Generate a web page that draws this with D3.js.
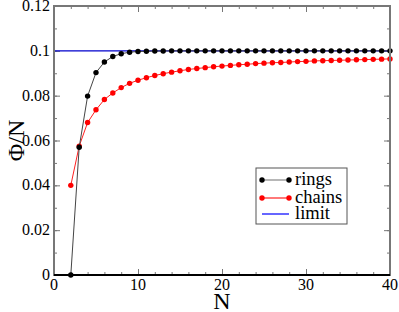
<!DOCTYPE html>
<html>
<head>
<meta charset="utf-8">
<script src="https://cdn.jsdelivr.net/npm/d3@7"></script>
<style>
  body { margin: 0; background: #fff; }
</style>
</head>
<body>
<div class="chart"></div>
<script>
// N values shared by both series
const nValues = d3.range(2, 41);

const rings = [0, 0.057, 0.0798, 0.0903, 0.095, 0.0975, 0.0987, 0.0994, 0.0997, 0.0998,
  0.0999, 0.0999, 0.1, 0.1, 0.1, 0.1, 0.1, 0.1, 0.1, 0.1,
  0.1, 0.1, 0.1, 0.1, 0.1, 0.1, 0.1, 0.1, 0.1, 0.1,
  0.1, 0.1, 0.1, 0.1, 0.1, 0.1, 0.1, 0.1, 0.1];

const chains = [0.040, 0.0575, 0.068, 0.0737, 0.0783, 0.0812, 0.0836, 0.0855, 0.0869, 0.0880,
  0.0890, 0.0898, 0.0905, 0.0911, 0.0917, 0.0921, 0.0925, 0.0929, 0.0932, 0.0935,
  0.0938, 0.0940, 0.0943, 0.0945, 0.0947, 0.0948, 0.0950, 0.0952, 0.0953, 0.0955,
  0.0956, 0.0957, 0.0958, 0.0959, 0.0960, 0.0961, 0.0962, 0.0963, 0.0964];

const limitValue = 0.1;

const xTicks = [0, 10, 20, 30, 40];
const yTicks = [0, 0.02, 0.04, 0.06, 0.08, 0.1, 0.12];
const yTickLabels = ["0", "0.02", "0.04", "0.06", "0.08", "0.1", "0.12"];

const legendNames = ["rings", "chains", "limit"];

const W = 399, H = 312;
const margin = {top: 6, left: 54, right: 9, bottom: 37};
const width = W - margin.left - margin.right,
  height = H - margin.top - margin.bottom;
const serif = "'Liberation Serif', serif";

const svg = d3.select(".chart").append("svg")
  .attr("width", W)
  .attr("height", H);

const g = svg.append("g")
  .attr("transform", "translate(" + margin.left + "," + margin.top + ")");

const x = d3.scaleLinear().domain([0, 40]).range([0, width]);
const y = d3.scaleLinear().domain([0, 0.12]).range([height, 0]);

const frameColor = "#777";

// inner ticks on all four sides
const xMinor = d3.range(0, 41, 2);
const yMinor = d3.range(0, 0.1201, 0.01);

function addAxis(axis, transform) {
  const a = g.append("g").attr("transform", transform).call(axis);
  a.select(".domain").remove();
  a.selectAll("line").attr("stroke", frameColor);
  a.selectAll("text").remove();
  return a;
}

addAxis(d3.axisBottom(x).tickValues(xMinor).tickSize(-3), "translate(0," + height + ")");
addAxis(d3.axisBottom(x).tickValues(xTicks).tickSize(-6), "translate(0," + height + ")");
addAxis(d3.axisTop(x).tickValues(xMinor).tickSize(-3), "translate(0,0)");
addAxis(d3.axisTop(x).tickValues(xTicks).tickSize(-6), "translate(0,0)");
addAxis(d3.axisLeft(y).tickValues(yMinor).tickSize(-3), "translate(0,0)");
addAxis(d3.axisLeft(y).tickValues(yTicks).tickSize(-6), "translate(0,0)");
addAxis(d3.axisRight(y).tickValues(yMinor).tickSize(-3), "translate(" + width + ",0)");
addAxis(d3.axisRight(y).tickValues(yTicks).tickSize(-6), "translate(" + width + ",0)");

// tick labels
g.selectAll(".xlab").data(xTicks).enter().append("text")
  .attr("x", d => x(d))
  .attr("y", height + 15)
  .attr("text-anchor", "middle")
  .attr("font-family", serif)
  .attr("font-size", 16)
  .text(d => d);

g.selectAll(".ylab").data(yTicks).enter().append("text")
  .attr("x", -4)
  .attr("y", d => y(d) + 5)
  .attr("text-anchor", "end")
  .attr("font-family", serif)
  .attr("font-size", 16)
  .text((d, i) => yTickLabels[i]);

// axis titles
svg.append("text")
  .attr("x", margin.left + width / 2)
  .attr("y", 309)
  .attr("text-anchor", "middle")
  .attr("font-family", serif)
  .attr("font-size", 24)
  .text("N");

svg.append("text")
  .attr("transform", "translate(24," + (margin.top + height / 2) + ") rotate(-90)")
  .attr("text-anchor", "middle")
  .attr("font-family", serif)
  .attr("font-size", 24)
  .text("Φ/N");

// limit line
g.append("line")
  .attr("x1", x(0)).attr("x2", x(40))
  .attr("y1", y(limitValue)).attr("y2", y(limitValue))
  .attr("stroke", "#0000cc")
  .attr("stroke-width", 1.2);

const line = d3.line()
  .x(d => x(d[0]))
  .y(d => y(d[1]));

function drawSeries(values, lineColor, dotColor) {
  const pts = nValues.map((n, i) => [n, values[i]]);
  g.append("path")
    .datum(pts)
    .attr("fill", "none")
    .attr("stroke", lineColor)
    .attr("stroke-width", 1)
    .attr("d", line);
  g.selectAll(null).data(pts).enter().append("circle")
    .attr("cx", d => x(d[0]))
    .attr("cy", d => y(d[1]))
    .attr("r", 2.7)
    .attr("fill", dotColor);
}

drawSeries(chains, "#ff2020", "#ff0000");
drawSeries(rings, "#444", "#000");

// frame
g.append("rect")
  .attr("width", width)
  .attr("height", height)
  .attr("fill", "none")
  .attr("stroke", frameColor)
  .attr("stroke-width", 2);
g.append("line")
  .attr("x1", 0).attr("x2", width)
  .attr("y1", height).attr("y2", height)
  .attr("stroke", "#000")
  .attr("stroke-width", 2);

// legend
const legend = svg.append("g").attr("transform", "translate(256,168)");
legend.append("rect")
  .attr("width", 91)
  .attr("height", 56)
  .attr("fill", "#fff")
  .attr("stroke", "#555")
  .attr("stroke-width", 1);

const legendStyles = [
  {line: "#888", dot: "#000"},
  {line: "#ff2020", dot: "#ff0000"},
  {line: "#0000ff", dot: null}
];
const legendY = [12, 30, 46];

legendNames.forEach((name, i) => {
  const row = legend.append("g").attr("transform", "translate(0," + legendY[i] + ")");
  row.append("line")
    .attr("x1", 6).attr("x2", 33)
    .attr("stroke", legendStyles[i].line)
    .attr("stroke-width", 1.2);
  if (legendStyles[i].dot) {
    row.selectAll("circle").data([6, 33]).enter().append("circle")
      .attr("cx", d => d)
      .attr("r", 2.7)
      .attr("fill", legendStyles[i].dot);
  }
  row.append("text")
    .attr("x", 39)
    .attr("y", 5)
    .attr("font-family", serif)
    .attr("font-size", 18.5)
    .text(name);
});
</script>
</body>
</html>
